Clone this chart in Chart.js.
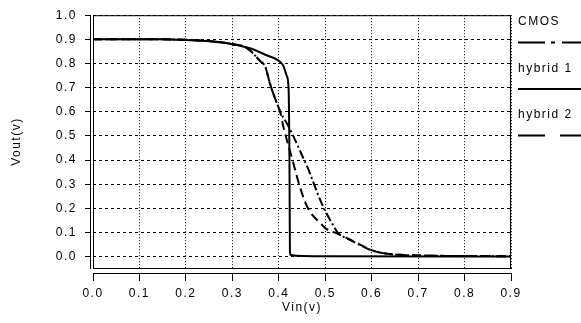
<!DOCTYPE html>
<html>
<head>
<meta charset="utf-8">
<script src="https://cdn.jsdelivr.net/npm/chart.js@4.4.1/dist/chart.umd.min.js"></script>
<style>
  body { margin: 0; background: #fff; }
  #wrap { width: 581px; height: 323px; }
</style>
</head>
<body>
<div id="wrap"><canvas id="chartVout"></canvas></div>
<script>
// tick labels
var xTicks = [0, 0.1, 0.2, 0.3, 0.4, 0.5, 0.6, 0.7, 0.8, 0.9];
var yTicks = [0, 0.1, 0.2, 0.3, 0.4, 0.5, 0.6, 0.7, 0.8, 0.9, 1.0];

// CMOS (dash-dot)
var cmosX = [0, 0.15, 0.2, 0.25, 0.3, 0.33, 0.36, 0.371, 0.381, 0.388, 0.396, 0.403, 0.418, 0.431, 0.442, 0.45, 0.464, 0.472, 0.486, 0.496, 0.507, 0.515, 0.526, 0.537, 0.547, 0.575, 0.603, 0.634, 0.668, 0.7, 0.76, 0.9];
var cmosY = [0.9, 0.9, 0.898, 0.893, 0.88, 0.866, 0.81, 0.786, 0.717, 0.676, 0.635, 0.6, 0.55, 0.5, 0.455, 0.42, 0.36, 0.32, 0.25, 0.205, 0.164, 0.137, 0.102, 0.085, 0.075, 0.048, 0.024, 0.012, 0.007, 0.005, 0.003, 0.002];

// hybrid 1 (solid)
var hyb1X = [0, 0.1, 0.15, 0.2, 0.25, 0.3, 0.34, 0.375, 0.397, 0.41, 0.417, 0.421, 0.423, 0.424, 0.425, 0.44, 0.5, 0.9];
var hyb1Y = [0.9, 0.9, 0.9, 0.897, 0.892, 0.88, 0.862, 0.833, 0.815, 0.79, 0.75, 0.7, 0.4, 0.02, 0.008, 0.004, 0.002, 0.001];

// hybrid 2 (dashed)
var hyb2X = [0, 0.15, 0.2, 0.25, 0.3, 0.33, 0.36, 0.371, 0.381, 0.388, 0.396, 0.403, 0.41, 0.42, 0.431, 0.44, 0.447, 0.457, 0.468, 0.49, 0.5, 0.526, 0.547, 0.575, 0.603, 0.634, 0.668, 0.7, 0.76, 0.9];
var hyb2Y = [0.9, 0.9, 0.898, 0.893, 0.88, 0.866, 0.81, 0.786, 0.717, 0.676, 0.635, 0.6, 0.537, 0.465, 0.39, 0.325, 0.28, 0.225, 0.184, 0.138, 0.118, 0.095, 0.077, 0.05, 0.025, 0.012, 0.007, 0.005, 0.003, 0.002];

function pairs(xs, ys) {
    var out = [];
    for (var i = 0; i < xs.length; i++) {
        out.push({x: xs[i], y: ys[i]});
    }
    return out;
}

Chart.defaults.font.family = "'Liberation Sans', Arial, sans-serif";
Chart.defaults.font.size = 12;
Chart.defaults.color = '#000';

// box, detached axis lines and the legend on the right
var framePlugin = {
    id: 'frame',
    beforeDraw: function(chart) {
        chart.ctx.letterSpacing = '1.5px';
    },
    afterDraw: function(chart) {
        var ctx = chart.ctx;
        var a = chart.chartArea;
        ctx.save();
        ctx.fillStyle = '#fff';
        ctx.fillRect(a.left - 2, a.top - 1, 2, a.bottom - a.top + 8);
        ctx.fillRect(a.left - 2, a.bottom + 1, a.right - a.left + 4, 4);
        ctx.strokeStyle = '#000';
        ctx.lineWidth = 1;
        ctx.setLineDash([]);
        ctx.strokeRect(a.left + 0.5, a.top + 0.5, a.right - a.left - 1, a.bottom - a.top);
        ctx.beginPath();
        ctx.moveTo(a.left - 2.5, a.top);
        ctx.lineTo(a.left - 2.5, a.bottom + 1);
        ctx.moveTo(a.left, a.bottom + 5.5);
        ctx.lineTo(a.right, a.bottom + 5.5);
        ctx.stroke();

        // legend
        ctx.font = "12px 'Liberation Sans', Arial, sans-serif";
        ctx.fillStyle = '#000';
        ctx.textBaseline = 'middle';
        ctx.textAlign = 'left';
        var x0 = a.right + 7;
        chart.data.datasets.forEach(function(ds, i) {
            var ty = 22 + i * 46.5;
            ctx.fillText(ds.label, x0, ty);
            ctx.beginPath();
            ctx.lineWidth = 2;
            ctx.setLineDash(ds.legendDash);
            ctx.moveTo(x0, ty + 20.5);
            ctx.lineTo(chart.width, ty + 20.5);
            ctx.stroke();
        });
        ctx.restore();
    }
};

var chartVout = new Chart(document.getElementById('chartVout'), {
    type: 'line',
    data: {
        datasets: [{
            label: 'CMOS',
            data: pairs(cmosX, cmosY),
            borderColor: '#000',
            borderWidth: 2,
            borderDash: [9, 3, 2, 3],
            legendDash: [27, 6, 4, 7],
            pointRadius: 0,
            cubicInterpolationMode: 'monotone',
            fill: false
        }, {
            label: 'hybrid 1',
            data: pairs(hyb1X, hyb1Y),
            borderColor: '#000',
            borderWidth: 2,
            borderDash: [],
            legendDash: [],
            pointRadius: 0,
            cubicInterpolationMode: 'monotone',
            fill: false
        }, {
            label: 'hybrid 2',
            data: pairs(hyb2X, hyb2Y),
            borderColor: '#000',
            borderWidth: 2,
            borderDash: [9, 5],
            legendDash: [27, 15],
            pointRadius: 0,
            cubicInterpolationMode: 'monotone',
            fill: false
        }]
    },
    options: {
        responsive: true,
        maintainAspectRatio: false,
        animation: false,
        layout: {
            padding: {top: 15, right: 70, left: 0, bottom: 0}
        },
        plugins: {
            legend: {display: false},
            tooltip: {enabled: false}
        },
        scales: {
            x: {
                type: 'linear',
                min: 0,
                max: 0.9,
                afterBuildTicks: function(scale) {
                    scale.ticks = xTicks.map(function(v) { return {value: v}; });
                },
                afterFit: function(scale) {
                    scale.height = 55;
                },
                ticks: {
                    padding: 5,
                    maxRotation: 0,
                    callback: function(v) { return Number(v).toFixed(1); }
                },
                grid: {
                    color: '#000',
                    lineWidth: 1,
                    tickLength: 13,
                    tickColor: '#000'
                },
                border: {display: false, dash: [1, 2]},
                title: {
                    display: true,
                    text: 'Vin(v)',
                    padding: {top: 0, bottom: 8}
                }
            },
            y: {
                min: -0.047,
                max: 1.0,
                afterBuildTicks: function(scale) {
                    scale.ticks = yTicks.map(function(v) { return {value: v}; });
                },
                afterFit: function(scale) {
                    scale.width = 93;
                },
                ticks: {
                    padding: 8,
                    callback: function(v) { return Number(v).toFixed(1); }
                },
                grid: {
                    color: '#000',
                    lineWidth: 1,
                    tickLength: 8,
                    tickColor: '#000'
                },
                border: {display: false, dash: [3, 3]},
                title: {
                    display: true,
                    text: 'Vout(v)',
                    padding: {top: 9, bottom: 0}
                }
            }
        }
    },
    plugins: [framePlugin]
});
</script>
</body>
</html>
